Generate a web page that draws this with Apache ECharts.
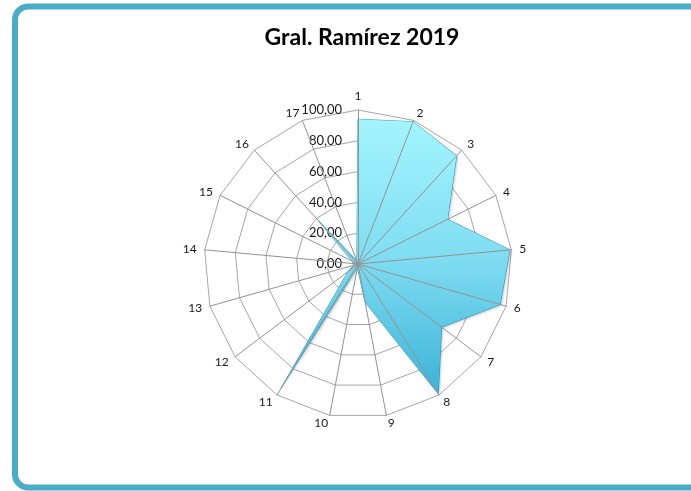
<!DOCTYPE html>
<html>
<head>
<meta charset="utf-8">
<script src="https://cdn.jsdelivr.net/npm/echarts@6/dist/echarts.min.js"></script>
<style>
  html, body { margin: 0; padding: 0; background: #ffffff; }
  #chart { width: 691px; height: 491px; }
</style>
</head>
<body>
<div id="chart"></div>
<script>
// Radar categories (clockwise from the top)
const categories = ['1','2','3','4','5','6','7','8','9','10','11','12','13','14','15','16','17'];
// Series values, same order as categories
const values = [94, 99, 95, 65, 99, 96, 68, 99, 25, 2, 95, 8, 3, 3, 4, 38, 2];
// Scale of the radial axis
const axisMin = 0;
const axisMax = 100;
const ringCount = 5;

// ECharts lays indicators out counter-clockwise, so keep the first one on top
// and walk the rest backwards to get a clockwise reading order.
const order = [0].concat(categories.map((_, i) => i).slice(1).reverse());
const fmt = v => v.toFixed(2).replace('.', ',');

const indicatorsBase = order.map((i, k) => {
  const ind = { name: categories[i], min: axisMin, max: axisMax };
  if (k === 0) {
    ind.axisLabel = {
      show: true,
      formatter: fmt,
      color: '#1a1a1a',
      fontSize: 13,
      fontFamily: 'Lato',
      margin: 16
    };
  }
  return ind;
});
const indicatorsTop = order.map(i => ({ name: categories[i], min: axisMin, max: axisMax }));
const seriesValues = order.map(i => values[i]);

const chart = echarts.init(document.getElementById('chart'), null, { renderer: 'canvas' });
chart.setOption({
  backgroundColor: '#ffffff',
  animation: false,
  title: {
    text: 'Gral. Ramírez 2019',
    left: 357,
    textAlign: 'center',
    top: 21,
    textStyle: { fontFamily: 'Lato', fontWeight: 'bold', fontSize: 23, color: '#000000' }
  },
  graphic: [{
    type: 'rect',
    z: 100,
    silent: true,
    shape: { x: 15, y: 6.5, width: 700, height: 481, r: 13 },
    style: { fill: null, stroke: '#4bacc6', lineWidth: 6 }
  }],
  radar: [{
    // rings, names and value labels, under the filled area
    z: 1,
    center: [358, 264],
    radius: 154,
    shape: 'polygon',
    splitNumber: ringCount,
    indicator: indicatorsBase,
    axisName: { color: '#1a1a1a', fontSize: 12, fontFamily: 'Lato' },
    nameGap: 8,
    axisLine: { show: false },
    axisTick: { show: false },
    axisLabel: { show: false },
    splitLine: { lineStyle: { color: '#a6a6a6', width: 1 } },
    splitArea: { show: false }
  }, {
    // spokes drawn above the filled area
    z: 3,
    center: [358, 264],
    radius: 154,
    shape: 'polygon',
    splitNumber: ringCount,
    indicator: indicatorsTop,
    axisName: { show: false },
    axisLine: { lineStyle: { color: '#939393', width: 1 } },
    axisTick: { show: false },
    axisLabel: { show: false },
    splitLine: { show: false },
    splitArea: { show: false }
  }],
  series: [{
    type: 'radar',
    radarIndex: 0,
    z: 2,
    symbol: 'none',
    lineStyle: { color: '#3aa6c6', width: 1 },
    areaStyle: {
      opacity: 1,
      color: new echarts.graphic.LinearGradient(0, 0, 0, 1, [
        { offset: 0, color: '#a3f5fe' },
        { offset: 0.5, color: '#80ddf2' },
        { offset: 1, color: '#3cb3d8' }
      ]),
      shadowColor: 'rgba(0,60,80,0.35)',
      shadowBlur: 3,
      shadowOffsetX: 1,
      shadowOffsetY: 1
    },
    data: [{ value: seriesValues }]
  }]
});
</script>
</body>
</html>
